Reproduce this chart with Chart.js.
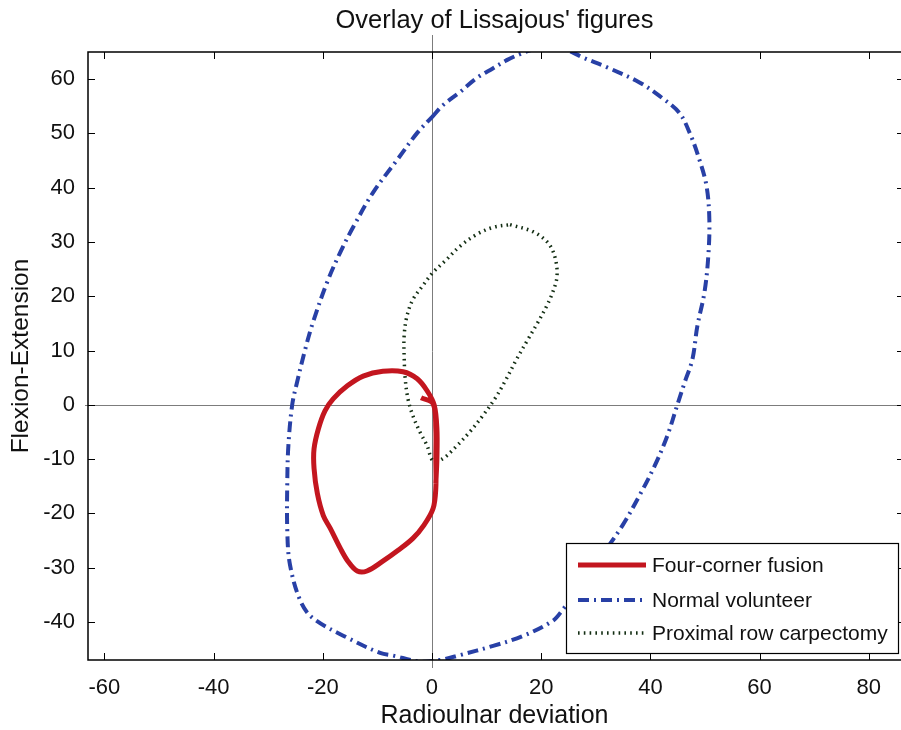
<!DOCTYPE html>
<html><head><meta charset="utf-8">
<script src="https://cdn.jsdelivr.net/npm/chart.js@4.4.1/dist/chart.umd.min.js"></script>
<style>html,body{margin:0;padding:0;background:#fff;overflow:hidden}canvas{display:block}</style>
</head><body>
<canvas id="c" width="901" height="730"></canvas>
<script>
const TITLE = "Overlay of Lissajous' figures";
const X_LABEL = "Radioulnar deviation";
const Y_LABEL = "Flexion-Extension";
const SERIES_NAMES = ["Four-corner fusion", "Normal volunteer", "Proximal row carpectomy"];
const X_TICKS = [-60, -40, -20, 0, 20, 40, 60, 80];
const Y_TICKS = [-40, -30, -20, -10, 0, 10, 20, 30, 40, 50, 60];

// Four-corner fusion (red, solid)
const RED_X = [-2.0, 0.2, 0.7, 0.7, 0.7, 0.2, -1.5, -3.5, -6.2, -9.0, -11.9, -13.7, -15.4, -16.8, -18.6, -19.9, -21.0, -21.6, -21.6, -20.8, -19.6, -18.1, -15.5, -12.6, -9.0, -5.3, -2.7, -0.9, 0.4, 0.9, 0.9, 0.7];
const RED_Y = [1.3, 0.2, -4.4, -9.9, -15.4, -19.1, -22.2, -24.6, -26.8, -28.8, -30.6, -30.6, -28.8, -26.4, -22.8, -20.4, -16.3, -11.7, -8.1, -4.4, -1.1, 1.1, 3.5, 5.3, 6.2, 6.1, 4.8, 2.6, 0.0, -4.4, -9.9, -14.5];

// Normal volunteer (blue, dash-dot)
const BLUE_X = [0.0, 2.0, 5.1, 8.2, 11.2, 13.7, 16.1, 19.0, 21.9, 24.9, 27.6, 32.0, 38.0, 42.2, 45.3, 47.2, 49.0, 50.3, 50.8, 50.6, 49.9, 48.6, 47.7, 46.3, 45.0, 43.1, 40.8, 38.0, 34.9, 30.7, 27.1, 23.9, 22.1, 16.6, 11.2, 5.1, 1.5, -2.2, -7.1, -9.5, -15.5, -21.8, -24.1, -26.0, -26.5, -26.5, -26.3, -25.6, -24.7, -23.2, -21.8, -19.2, -16.8, -14.4, -10.8, -6.4, -2.7, 0.0];
const BLUE_Y = [53.0, 55.2, 57.6, 60.2, 62.0, 63.5, 64.6, 65.6, 65.9, 65.3, 64.0, 62.2, 59.4, 56.5, 53.8, 50.1, 45.1, 40.2, 34.1, 27.3, 20.7, 14.5, 8.4, 4.2, 0.2, -5.7, -11.2, -16.7, -22.2, -28.3, -33.4, -37.8, -39.8, -42.6, -44.4, -46.1, -47.0, -47.3, -46.2, -45.7, -42.9, -39.3, -36.1, -29.5, -23.3, -14.1, -7.5, 0.0, 4.2, 10.3, 15.2, 22.6, 28.1, 32.8, 39.1, 45.1, 50.1, 53.0];

// Proximal row carpectomy (green, dotted)
const GREEN_X = [14.3, 18.5, 21.2, 22.5, 22.9, 22.1, 21.0, 19.4, 17.6, 15.5, 13.3, 11.5, 9.3, 6.9, 4.6, 2.0, 0.2, -0.9, -2.2, -3.5, -4.4, -4.9, -5.1, -5.1, -4.6, -3.5, -1.8, 0.2, 2.7, 5.1, 8.2, 11.2, 14.3];
const GREEN_Y = [33.2, 31.9, 29.9, 27.3, 23.7, 20.7, 18.2, 15.2, 12.1, 8.4, 4.2, 1.1, -2.0, -5.0, -7.5, -9.9, -10.3, -7.5, -5.0, -2.0, 1.1, 4.8, 9.0, 12.7, 16.3, 19.4, 21.8, 24.4, 26.8, 29.2, 31.4, 32.7, 33.2];

const COLORS = ["#c3161f", "#2840a6", "#132e13"];
const FONT = '"Liberation Sans", Arial, Helvetica, sans-serif';

function pts(xs, ys) { return xs.map((x, i) => ({ x: x, y: ys[i] })); }

const STYLES = [
  { width: 5, dash: [] },
  { width: 4, dash: [11, 5, 2, 5] },
  { width: 3.5, dash: [1.6, 4.2] }
];

const chromePlugin = {
  id: 'chrome',
  beforeDatasetsDraw(chart) {
    const { ctx, chartArea: a, scales: { x, y } } = chart;
    ctx.save();
    ctx.strokeStyle = '#7c7c7c';
    ctx.lineWidth = 1;
    const x0 = Math.round(x.getPixelForValue(0)) + 0.5;
    const y0 = Math.round(y.getPixelForValue(0)) + 0.5;
    ctx.beginPath();
    ctx.moveTo(x0, 35); ctx.lineTo(x0, a.bottom + 8);
    ctx.moveTo(a.left - 3, y0); ctx.lineTo(a.right, y0);
    ctx.stroke();
    ctx.restore();
  },
  afterDatasetsDraw(chart) {
    const { ctx, chartArea: a, scales: { x, y } } = chart;
    ctx.save();
    ctx.strokeStyle = '#000';
    ctx.lineWidth = 1.5;
    ctx.beginPath();
    ctx.moveTo(a.right + 2, a.top); ctx.lineTo(a.left, a.top); ctx.lineTo(a.left, a.bottom); ctx.lineTo(a.right + 2, a.bottom);
    ctx.stroke();
    ctx.lineWidth = 1;
    ctx.beginPath();
    const tl = 7;
    X_TICKS.forEach(v => {
      const px = Math.round(x.getPixelForValue(v)) + 0.5;
      ctx.moveTo(px, a.bottom); ctx.lineTo(px, a.bottom - tl);
      ctx.moveTo(px, a.top); ctx.lineTo(px, a.top + tl);
    });
    Y_TICKS.forEach(v => {
      const py = Math.round(y.getPixelForValue(v)) + 0.5;
      ctx.moveTo(a.left, py); ctx.lineTo(a.left + tl, py);
      ctx.moveTo(a.right, py); ctx.lineTo(a.right - 4, py);
    });
    ctx.stroke();
    ctx.restore();
  },
  afterDraw(chart) {
    const { ctx, chartArea: a } = chart;
    const bx = a.left + 478, by = a.bottom - 117, bw = 332, bh = 110;
    ctx.save();
    ctx.fillStyle = '#fff';
    ctx.fillRect(bx, by, bw, bh);
    ctx.strokeStyle = '#000';
    ctx.lineWidth = 1.2;
    ctx.strokeRect(bx + 0.5, by + 0.5, bw, bh);
    const rows = [22, 57, 90];
    ctx.font = '21px ' + FONT;
    ctx.textBaseline = 'middle';
    ctx.textAlign = 'left';
    chart.data.datasets.forEach((ds, i) => {
      const ry = by + rows[i];
      ctx.save();
      ctx.strokeStyle = COLORS[i];
      ctx.lineWidth = STYLES[i].width;
      ctx.setLineDash(STYLES[i].dash);
      ctx.beginPath();
      ctx.moveTo(bx + 12, ry); ctx.lineTo(bx + 80, ry);
      ctx.stroke();
      ctx.restore();
      ctx.fillStyle = '#111';
      ctx.fillText(ds.label, bx + 86, ry + 1);
    });
    ctx.restore();
  }
};

const datasets = [
  [RED_X, RED_Y], [BLUE_X, BLUE_Y], [GREEN_X, GREEN_Y]
].map((d, i) => ({
  label: SERIES_NAMES[i],
  data: pts(d[0], d[1]),
  showLine: true,
  borderColor: COLORS[i],
  backgroundColor: COLORS[i],
  borderWidth: STYLES[i].width,
  borderDash: STYLES[i].dash,
  borderCapStyle: 'butt',
  borderJoinStyle: 'round',
  tension: 0.35,
  pointRadius: 0,
  pointHoverRadius: 0,
  fill: false,
  clip: 0
}));

new Chart(document.getElementById('c'), {
  type: 'scatter',
  data: { datasets: datasets },
  options: {
    responsive: false,
    animation: false,
    events: [],
    layout: { padding: { left: 0, right: 0, top: 0, bottom: 0 } },
    plugins: {
      legend: { display: false },
      tooltip: { enabled: false },
      title: {
        display: true,
        text: TITLE,
        fullSize: false,
        color: '#111',
        font: { family: FONT, size: 25.5, weight: 'normal', lineHeight: 1.2 },
        padding: { top: 6, bottom: 15.4 }
      }
    },
    scales: {
      x: {
        type: 'linear',
        min: -63, max: 85.9,
        grid: { display: false },
        border: { display: false },
        afterBuildTicks: s => { s.ticks = X_TICKS.map(v => ({ value: v })); },
        afterFit: s => { s.height = 70; },
        ticks: { color: '#111', padding: 7, font: { family: FONT, size: 22 }, maxRotation: 0 },
        title: { display: true, text: X_LABEL, color: '#111', font: { family: FONT, size: 25, lineHeight: 1.1 }, padding: { top: 0, bottom: 0 } }
      },
      y: {
        type: 'linear',
        min: -47, max: 65,
        grid: { display: false },
        border: { display: false },
        afterBuildTicks: s => { s.ticks = Y_TICKS.map(v => ({ value: v })); },
        afterFit: s => { s.width = 88; },
        ticks: { color: '#111', padding: 5, font: { family: FONT, size: 22 } },
        title: { display: true, text: Y_LABEL, color: '#111', font: { family: FONT, size: 24.5, lineHeight: 1.2 }, padding: { top: 7, bottom: 0 } }
      }
    }
  },
  plugins: [chromePlugin]
});
</script>
</body></html>
